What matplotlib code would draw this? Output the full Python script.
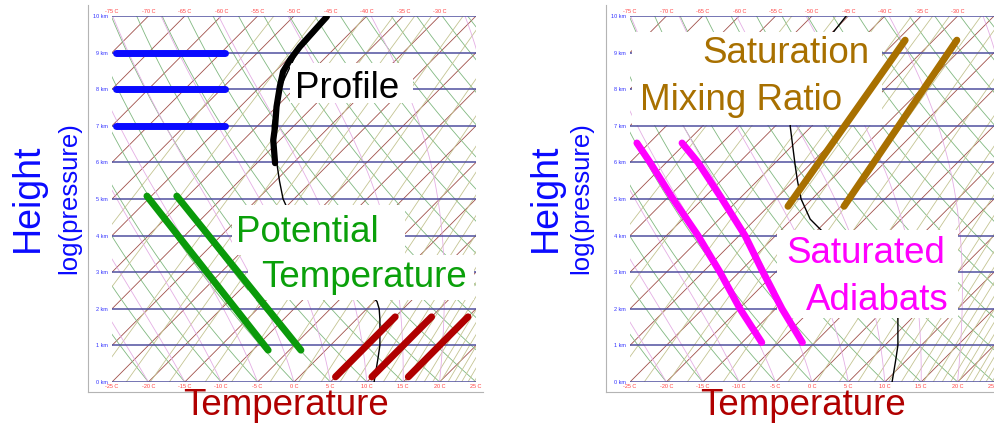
import numpy as np
import matplotlib.pyplot as plt
from matplotlib.patches import Rectangle

plt.rcParams['font.family'] = ['Liberation Sans', 'DejaVu Sans']

# diagram: height (km, ~log pressure) on y, temperature skewed 5 C per km on x
scale_height = 8.0      # km
skew_rate = 5.0         # C per km
km_levels = np.arange(0, 11)

# background line families
iso_temps = np.arange(-80, 30, 5)          # isotherms, C
theta_vals = np.arange(-30, 95, 5)         # dry adiabats, C at 1000 hPa
theta_w_vals = np.arange(-40, 45, 5)       # saturated adiabats, C at 1000 hPa
mix_ratios = [0.1, 0.2, 0.4, 0.6, 0.8, 1, 1.5, 2, 3, 4, 5, 6, 7, 8, 9, 10,
              11, 12, 13, 14, 15, 16, 17, 18, 19, 20, 22, 24]   # g/kg

bottom_ticks = np.arange(-25, 30, 5)
top_ticks = np.arange(-75, -25, 5)

# sounding (thin black line)
snd_h = [0, 0.6, 1, 1.7, 2, 2.2, 4.2, 4.45, 5, 5.5, 5.9, 7, 8, 9, 9.5, 10]
snd_t = [11, 8.5, 6.8, 3.3, 1.7, 0.4, -20, -22.5, -26.5, -29.5, -31.8, -38,
         -42, -44.6, -44.8, -45.3]

# hand drawn "Profile" stroke
prof_h = [5.98, 6.61, 6.98, 7.52, 8.07, 8.48, 8.80, 9.16, 9.57, 9.98]
prof_t = [-32.5, -35.9, -37.5, -40.0, -42.3, -43.9, -44.55, -45.0, -45.2, -45.4]

# highlighted lines
height_km = [7, 8, 9]
height_span = [-24.5, -9.5]                 # skewed temperature axis units
pot_h = [5.08, 0.87]
pot_t = [[-45.6, -7.9], [-41.5, -3.4]]
temp_h = [0.14, 1.78]
temp_t = [5, 10, 15]
satad_h = [6.53, 6, 5, 4, 3, 2, 1.08]
satad_t = [[-56.7, -52.25, -44.09, -35.66, -27.64, -19.89, -12.3],
           [-50.5, -45.66, -37.36, -29.2, -21.73, -14.12, -6.72]]
mixr_h = [4.8, 9.34]
mixr_t = [[-27.3, -33.9], [-19.6, -26.8]]

BLUE = '#0a0aff'
GREEN = '#0a9a0a'
DRED = '#b00000'
GOLD = '#a87000'
MAGENTA = '#ff00ff'
BOLD = dict(lw=5, solid_capstyle='round', solid_joinstyle='round', zorder=5)


def skew(t, h):
    return np.asarray(t, dtype=float) + skew_rate * np.asarray(h, dtype=float)


z = np.linspace(0, 10, 401)
p = 1000 * np.exp(-z / scale_height)


def sat_vap(tc):
    return 6.112 * np.exp(17.67 * tc / (tc + 243.5))


def moist_lapse(tk, pp):
    es = sat_vap(tk - 273.15)
    rs = 0.622 * es / (pp - es)
    num = 287.04 * tk + 2.501e6 * rs
    den = 1005.7 + 2.501e6 ** 2 * rs * 0.622 / (287.04 * tk ** 2)
    return num / den / pp


def moist_adiabats(t0):
    tk = np.zeros((len(p), len(t0)))
    tk[0] = np.asarray(t0) + 273.15
    for i in range(1, len(p)):
        dp = p[i] - p[i - 1]
        k1 = moist_lapse(tk[i - 1], p[i - 1])
        k2 = moist_lapse(tk[i - 1] + k1 * dp, p[i])
        tk[i] = tk[i - 1] + 0.5 * (k1 + k2) * dp
    return tk - 273.15


moist = moist_adiabats(theta_w_vals)


def draw_grid(ax):
    for t in iso_temps:
        ax.plot(skew([t, t], [0, 10]), [0, 10], color='#a0504a', lw=0.6, zorder=1)
    for th in theta_vals:
        tt = (th + 273.15) * (p / 1000) ** 0.286 - 273.15
        ax.plot(skew(tt, z), z, color='#80b880', lw=0.6, zorder=1)
    for w in mix_ratios:
        es = (w / 1000) * p / (0.622 + w / 1000)
        lg = np.log(es / 6.112)
        tt = 243.5 * lg / (17.67 - lg)
        ax.plot(skew(tt, z), z, color='#c4c492', lw=0.6, zorder=1)
    for j in range(moist.shape[1]):
        ax.plot(skew(moist[:, j], z), z, color='#e4aee4', lw=0.6, zorder=1)
    for k in km_levels:
        ax.axhline(k, color='#50509f', lw=1.1, zorder=2)
    ax.plot(skew(snd_t, snd_h), snd_h, color='black', lw=1.0, zorder=3)

    ax.set_xlim(-25, 25)
    ax.set_ylim(0, 10)
    ax.set_yticks(km_levels, labels=[f"{k} km" for k in km_levels])
    ax.set_xticks(bottom_ticks, labels=[f"{t} C" for t in bottom_ticks])
    ax.tick_params(axis='y', length=0, pad=3, labelsize=4, labelcolor='#3030ff')
    ax.tick_params(axis='x', length=0, pad=1.5, labelsize=4, labelcolor='#ff4040')
    top = ax.secondary_xaxis('top')
    top.set_xticks(top_ticks + 50, labels=[f"{t} C" for t in top_ticks])
    top.tick_params(length=0, pad=1.5, labelsize=4, labelcolor='#ff4040')
    top.spines['top'].set_visible(False)
    for s in ax.spines.values():
        s.set_visible(False)


def white_box(ax, x0, y0, x1, y1):
    ax.add_patch(Rectangle((x0, y0), x1 - x0, y1 - y0, transform=ax.transAxes,
                           facecolor='white', edgecolor='none', zorder=4))


def label(ax, x, y, s, color):
    ax.text(x, y, s, transform=ax.transAxes, ha='center', va='baseline',
            fontsize=26.5, color=color, zorder=6)


fig = plt.figure(figsize=(9.95, 4.25), dpi=100)

for fx, fw in [(88 / 995, 395 / 995), (606 / 995, 389 / 995)]:
    frame = fig.add_axes([fx, 33 / 425, fw, 387 / 425])
    frame.set_xticks([])
    frame.set_yticks([])
    frame.patch.set_visible(False)
    for side in ['top', 'right']:
        frame.spines[side].set_visible(False)
    for side in ['left', 'bottom']:
        frame.spines[side].set_color('#b4b4b4')

axl = fig.add_axes([112 / 995, 43 / 425, 364 / 995, 366 / 425])
axr = fig.add_axes([630 / 995, 43 / 425, 364 / 995, 366 / 425])

# left panel
draw_grid(axl)
white_box(axl, 0.489, 0.762, 0.827, 0.872)
white_box(axl, 0.330, 0.347, 0.805, 0.484)
white_box(axl, 0.374, 0.224, 0.995, 0.347)
for k in height_km:
    axl.plot(height_span, [k, k], color=BLUE, **BOLD)
axl.plot(skew(prof_t, prof_h), prof_h, color='black',
         **{**BOLD, 'lw': 4.5})
for tt in pot_t:
    axl.plot(skew(tt, pot_h), pot_h, color=GREEN, **BOLD)
for t in temp_t:
    axl.plot(skew([t, t], temp_h), temp_h, color=DRED, **BOLD)
label(axl, 0.646, 0.776, 'Profile', 'black')
label(axl, 0.536, 0.383, 'Potential', '#0aa00a')
label(axl, 0.692, 0.260, 'Temperature', '#0aa00a')

# right panel
draw_grid(axr)
white_box(axr, 0.005, 0.702, 0.692, 0.956)
white_box(axr, 0.404, 0.175, 0.901, 0.415)
for tt in satad_t:
    axr.plot(skew(tt, satad_h), satad_h, color=MAGENTA, **BOLD)
for tt in mixr_t:
    axr.plot(skew(tt, mixr_h), mixr_h, color=GOLD, **BOLD)
label(axr, 0.429, 0.872, 'Saturation', GOLD)
label(axr, 0.305, 0.743, 'Mixing Ratio', GOLD)
label(axr, 0.648, 0.325, 'Saturated', MAGENTA)
label(axr, 0.679, 0.197, 'Adiabats', MAGENTA)

# axis titles
for hx, lx in [(28, 69), (546, 581)]:
    fig.text(hx / 995, 0.534, 'Height', rotation=90, ha='center',
             va='center', fontsize=27, color=BLUE)
    fig.text(lx / 995, 0.534, 'log(pressure)', rotation=90, ha='center',
             va='center', fontsize=18.5, color=BLUE)
for cx in [286, 803]:
    fig.text(cx / 995, 10 / 425, 'Temperature', ha='center', va='baseline',
             fontsize=26.5, color=DRED)

fig.savefig('out.png', dpi=100)
